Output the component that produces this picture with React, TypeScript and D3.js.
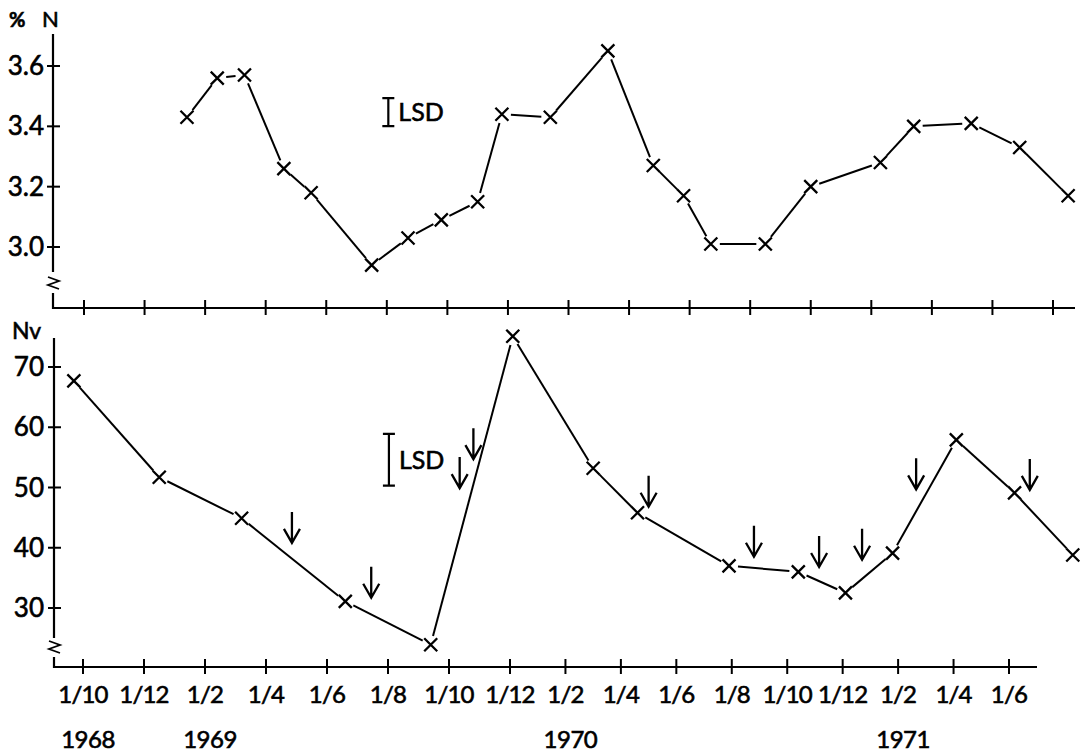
import React from "react";
import * as d3 from "d3";

// ---- data (months counted from 1 Oct 1968) ----
const tickMonths = d3.range(0, 33, 2);
const tickLabels = ["1/10", "1/12", "1/2", "1/4", "1/6", "1/8", "1/10", "1/12", "1/2", "1/4", "1/6", "1/8", "1/10", "1/12", "1/2", "1/4", "1/6"];
const yearLabels = ["1968", "1969", "1970", "1971"];
const yearMonths = [0, 4, 16, 28];

const topTicks = [3.0, 3.2, 3.4, 3.6];
const topMonths = [3.4, 4.4, 5.3, 6.6, 7.5, 9.5, 10.7, 11.8, 13.0, 13.8, 15.4, 17.3, 18.8, 19.8, 20.7, 22.5, 24.0, 26.3, 27.4, 29.3, 30.9, 32.5];
const topN = [3.43, 3.56, 3.57, 3.26, 3.18, 2.94, 3.03, 3.09, 3.15, 3.44, 3.43, 3.65, 3.27, 3.17, 3.01, 3.01, 3.2, 3.28, 3.4, 3.41, 3.33, 3.17];
const topLSD = { month: 10.05, center: 3.447, size: 0.093 };

const bottomTicks = [30, 40, 50, 60, 70];
const bottomMonths = [-0.3, 2.5, 5.2, 8.6, 11.4, 14.1, 17.0, 18.6, 21.9, 24.4, 26.1, 27.8, 30.1, 32.2, 34.3];
const bottomNv = [67.7, 51.7, 44.9, 31.1, 23.9, 75.1, 53.2, 45.8, 37.0, 36.0, 32.5, 39.1, 57.9, 49.1, 38.8];
const bottomLSD = { month: 10.03, center: 54.6, size: 8.6 };

const arrowMonths = [6.85, 9.45, 12.35, 12.8, 19.0, 22.8, 25.15, 26.7, 28.65, 32.75];
const arrowTips = [40.8, 31.7, 49.9, 54.7, 46.8, 38.5, 36.8, 38.0, 49.7, 49.6];

// ---- layout ----
const W = 1091;
const H = 754;
const FONT = "Lato, 'Open Sans', sans-serif";
const INK = "#000";
const TXT = { fontFamily: FONT, fill: INK, stroke: INK, strokeWidth: 0.6 } as const;

const xTop = d3.scaleLinear().domain([0, 32]).range([84, 1053]);
const xBot = d3.scaleLinear().domain([0, 14, 32]).range([83, 510, 1009]);
const yTop = d3.scaleLinear().domain([3.0, 3.6]).range([247, 66]);
const yBot = d3.scaleLinear().domain([30, 70]).range([608, 367]);

function gappedSegments(pts: [number, number][], gap: number) {
  const out: string[] = [];
  for (let i = 0; i < pts.length - 1; i++) {
    const [x0, y0] = pts[i];
    const [x1, y1] = pts[i + 1];
    const dx = x1 - x0, dy = y1 - y0;
    const len = Math.hypot(dx, dy);
    if (len < gap * 2 + 2) continue;
    const ux = dx / len, uy = dy / len;
    const p = d3.path();
    p.moveTo(x0 + ux * gap, y0 + uy * gap);
    p.lineTo(x1 - ux * gap, y1 - uy * gap);
    out.push(p.toString());
  }
  return out;
}

function Cross({ x, y }: { x: number; y: number }) {
  const s = 6.5;
  return (
    <path d={`M${x - s},${y - s}L${x + s},${y + s}M${x - s},${y + s}L${x + s},${y - s}`} stroke={INK} strokeWidth={2.3} fill="none" />
  );
}

function Series({ xs, ys, xScale, yScale }: any) {
  const pts: [number, number][] = xs.map((m: number, i: number) => [xScale(m), yScale(ys[i])]);
  return (
    <g>
      {gappedSegments(pts, 9).map((d, i) => (
        <path key={i} d={d} stroke={INK} strokeWidth={2} fill="none" />
      ))}
      {pts.map(([x, y], i) => (
        <Cross key={i} x={x} y={y} />
      ))}
    </g>
  );
}

function LSDBar({ x, y0, y1 }: { x: number; y0: number; y1: number }) {
  const s = 6;
  return (
    <g>
      <path d={`M${x},${y0}L${x},${y1}M${x - s},${y0}L${x + s},${y0}M${x - s},${y1}L${x + s},${y1}`} stroke={INK} strokeWidth={2.2} fill="none" />
      <text x={x + 10} y={(y0 + y1) / 2 + 9} fontSize={25} {...TXT}>LSD</text>
    </g>
  );
}

function Arrow({ x, y }: { x: number; y: number }) {
  return (
    <path d={`M${x},${y - 31}L${x},${y}M${x - 8},${y - 14}L${x},${y}L${x + 8},${y - 14}`} stroke={INK} strokeWidth={2.3} fill="none" />
  );
}

function BreakMark({ x, y }: { x: number; y: number }) {
  return (
    <path d={`M${x - 5},${y - 6}L${x + 6},${y - 2}L${x - 5},${y + 2}L${x + 6},${y + 6}`} stroke={INK} strokeWidth={1.8} fill="none" />
  );
}

export default function App() {
  const topAxisX = 53, topAxisY = 308;
  const botAxisX = 54, botAxisY = 667;
  return (
    <svg width={W} height={H} style={{ position: "absolute", left: 0, top: 0, background: "#fff" }}>
      <rect width={W} height={H} fill="#fff" />
      {/* ---------- top panel ---------- */}
      <text x={9} y={27} fontSize={20} fontWeight="bold" {...TXT}>%</text>
      <text x={42} y={27} fontSize={22} {...TXT}>N</text>
      <path d={`M${topAxisX},34L${topAxisX},272M${topAxisX},293L${topAxisX},${topAxisY}L1075,${topAxisY}`} stroke={INK} strokeWidth={2.2} fill="none" />
      <BreakMark x={topAxisX} y={283} />
      {topTicks.map((v) => (
        <g key={v}>
          <path d={`M${topAxisX - 6},${yTop(v)}L${topAxisX + 7},${yTop(v)}`} stroke={INK} strokeWidth={2} />
          <text x={44} y={yTop(v) + 9} textAnchor="end" fontSize={26} {...TXT}>{v.toFixed(1)}</text>
        </g>
      ))}
      {tickMonths.map((m) => (
        <path key={m} d={`M${xTop(m)},${topAxisY - 8}L${xTop(m)},${topAxisY + 7}`} stroke={INK} strokeWidth={2} />
      ))}
      <Series xs={topMonths} ys={topN} xScale={xTop} yScale={yTop} />
      <LSDBar x={xTop(topLSD.month)} y0={yTop(topLSD.center + topLSD.size / 2)} y1={yTop(topLSD.center - topLSD.size / 2)} />

      {/* ---------- bottom panel ---------- */}
      <text x={12} y={339} fontSize={23} {...TXT}>Nv</text>
      <path d={`M${botAxisX},338L${botAxisX},638M${botAxisX},657L${botAxisX},${botAxisY}L1037,${botAxisY}`} stroke={INK} strokeWidth={2.2} fill="none" />
      <BreakMark x={botAxisX} y={647} />
      {bottomTicks.map((v) => (
        <g key={v}>
          <path d={`M${botAxisX - 6},${yBot(v)}L${botAxisX + 7},${yBot(v)}`} stroke={INK} strokeWidth={2} />
          <text x={44} y={yBot(v) + 9} textAnchor="end" fontSize={26} {...TXT}>{v}</text>
        </g>
      ))}
      {tickMonths.map((m, i) => (
        <g key={m}>
          <path d={`M${xBot(m)},${botAxisY - 8}L${xBot(m)},${botAxisY + 7}`} stroke={INK} strokeWidth={2} />
          <text x={xBot(m)} y={703} textAnchor="middle" fontSize={24} letterSpacing={-0.8} {...TXT}>{tickLabels[i]}</text>
        </g>
      ))}
      {yearLabels.map((t, i) => (
        <text key={t} x={xBot(yearMonths[i]) + 5} y={748} textAnchor="middle" fontSize={24} letterSpacing={-0.5} {...TXT}>{t}</text>
      ))}
      <Series xs={bottomMonths} ys={bottomNv} xScale={xBot} yScale={yBot} />
      {arrowMonths.map((m, i) => (
        <Arrow key={i} x={xBot(m)} y={yBot(arrowTips[i])} />
      ))}
      <LSDBar x={xBot(bottomLSD.month)} y0={yBot(bottomLSD.center + bottomLSD.size / 2)} y1={yBot(bottomLSD.center - bottomLSD.size / 2)} />
    </svg>
  );
}
